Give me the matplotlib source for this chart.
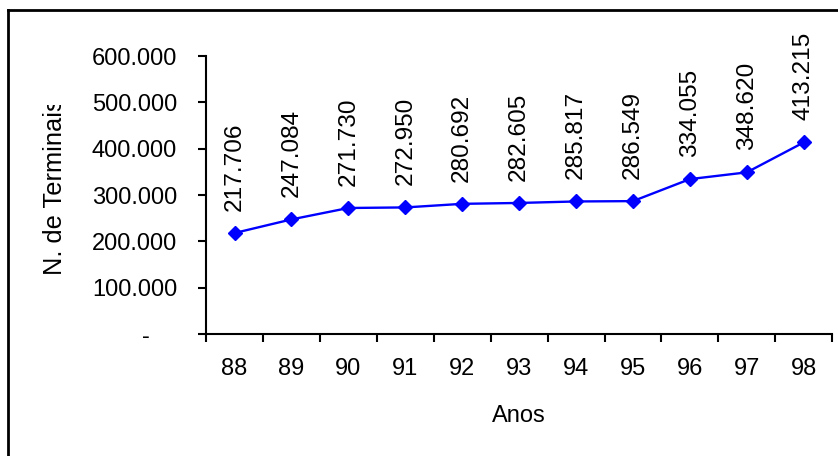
import matplotlib
matplotlib.use("Agg")
import matplotlib.pyplot as plt
from matplotlib.transforms import Bbox, TransformedBbox, ScaledTranslation
from matplotlib.lines import Line2D

years = ["88", "89", "90", "91", "92", "93", "94", "95", "96", "97", "98"]
terminals = [217706, 247084, 271730, 272950, 280692, 282605, 285817, 286549, 334055, 348620, 413215]
y_ticks = [0, 100000, 200000, 300000, 400000, 500000, 600000]

plt.rcParams['font.family'] = ['Liberation Sans', 'DejaVu Sans']
FS = 17

W, H = 838, 456
fig = plt.figure(figsize=(W / 100 + 0.002, H / 100 + 0.002), dpi=100)

def fmt(v):
    return "-" if v == 0 else f"{v:,}".replace(",", ".")

# outer frame (extends past right/bottom)
fig.add_artist(Line2D([8 / W, 8 / W], [0, 1 - 10 / H], transform=fig.transFigure,
                      color='black', lw=2.0, solid_capstyle='projecting'))
fig.add_artist(Line2D([8 / W, 1.0], [1 - 10 / H, 1 - 10 / H], transform=fig.transFigure,
                      color='black', lw=2.0, solid_capstyle='projecting'))

ax = fig.add_axes([206 / W, (H - 334) / H, (832 - 206) / W, (334 - 56) / H])
x = list(range(len(years)))
ax.plot(x, terminals, color='#0000ff', lw=1.7, marker='D', ms=7,
        markeredgecolor='#0000ff', markerfacecolor='#0000ff', clip_on=False, zorder=3)

ax.set_xlim(-0.5, len(years) - 0.5)
ax.set_ylim(0, 600000)

for s in ['top', 'right']:
    ax.spines[s].set_visible(False)
for s in ['left', 'bottom']:
    ax.spines[s].set_linewidth(1.5)

ax.set_yticks(y_ticks)
ax.set_yticklabels([fmt(v) for v in y_ticks])
ax.tick_params(axis='y', direction='out', length=5.8, width=1.5, pad=15, labelsize=FS)
for lab in ax.get_yticklabels():
    if lab.get_text() == "-":
        lab.set_transform(lab.get_transform() + ScaledTranslation(-27 / 100, 0, fig.dpi_scale_trans))

ax.set_xticks([i - 0.5 for i in range(len(years) + 1)])
ax.set_xticklabels([])
ax.set_xticks(x, minor=True)
ax.set_xticklabels(years, minor=True)
ax.tick_params(axis='x', which='major', direction='out', length=5.8, width=1.5)
ax.tick_params(axis='x', which='minor', length=0, pad=17, labelsize=FS)

ax.set_xlabel("Anos", fontsize=FS, labelpad=18)

for xi, v in zip(x, terminals):
    ax.annotate(fmt(v), (xi, v), xytext=(0, 16), textcoords='offset points',
                rotation=90, ha='center', va='bottom', fontsize=17.6, annotation_clip=False)

yl = fig.text(55 / W, (H - 275) / H, "N. de Terminais", rotation=90, ha='center', va='bottom',
              fontsize=18.3)
yl.set_clip_box(TransformedBbox(Bbox([[0, 0], [1, (H - 105) / H]]), fig.transFigure))
yl.set_clip_on(True)

fig.savefig("out.png", dpi=100)
